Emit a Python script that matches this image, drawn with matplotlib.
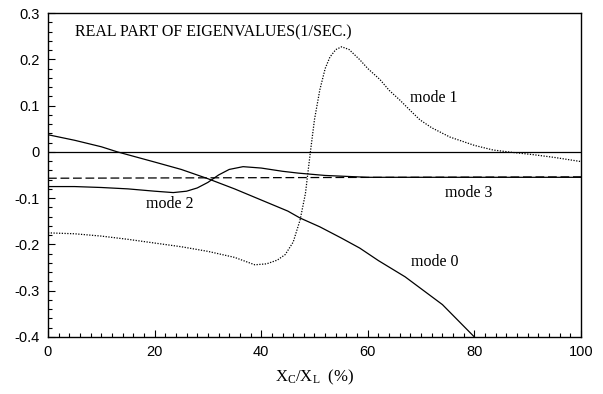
import numpy as np
import matplotlib
matplotlib.use("Agg")
import matplotlib.pyplot as plt
from matplotlib.ticker import MultipleLocator

plt.rcParams["mathtext.fontset"] = "custom"
plt.rcParams["mathtext.rm"] = "Liberation Serif"
plt.rcParams["mathtext.it"] = "Liberation Serif:italic"

# values (x = Xc/XL in %, y = 1/sec)
mode0_x = [0, 5, 10, 13, 20, 25, 30, 35, 40, 45, 47.3, 51, 55, 58.5, 62, 67, 74, 80]
mode0_y = [0.037, 0.025, 0.011, 0.0, -0.022, -0.038, -0.058, -0.080, -0.104,
           -0.128, -0.143, -0.162, -0.186, -0.208, -0.235, -0.270, -0.330, -0.400]

mode1_x = [0, 5, 10, 15, 20, 25, 30, 35, 38.8, 41, 43, 44.5, 46, 47.3, 48.3,
           49.2, 50, 51, 52, 52.9, 54, 55.1, 56.5, 58.5, 60, 62.3, 64, 66, 68,
           69.8, 72, 75.4, 80, 83.5, 87, 91, 95, 100]
mode1_y = [-0.175, -0.177, -0.182, -0.189, -0.197, -0.205, -0.215, -0.228,
           -0.244, -0.242, -0.234, -0.222, -0.195, -0.147, -0.090, -0.003,
           0.070, 0.134, 0.180, 0.205, 0.221, 0.227, 0.221, 0.199, 0.180,
           0.156, 0.133, 0.112, 0.089, 0.069, 0.052, 0.032, 0.014, 0.004,
           -0.001, -0.006, -0.012, -0.021]

mode2_x = [0, 5, 10, 15, 20, 23.5, 26, 28, 30, 32, 34, 36.6, 40, 44, 47, 52, 60, 100]
mode2_y = [-0.075, -0.075, -0.077, -0.080, -0.085, -0.088, -0.085, -0.078,
           -0.066, -0.050, -0.038, -0.032, -0.035, -0.042, -0.046, -0.051,
           -0.055, -0.055]

mode3_x = [0, 100]
mode3_y = [-0.057, -0.054]

x_ticks = [0, 20, 40, 60, 80, 100]
y_ticks = [-0.4, -0.3, -0.2, -0.1, 0, 0.1, 0.2, 0.3]
y_labels = ["-0.4", "-0.3", "-0.2", "-0.1", "0", "0.1", "0.2", "0.3"]

fig = plt.figure(figsize=(6.03, 3.94), dpi=100)
ax = fig.add_axes([0.0796, 0.1447, 0.8839, 0.8223])

lw = 0.9
ax.axhline(0, color="black", lw=lw)
ax.plot(mode0_x, mode0_y, color="black", lw=lw)
ax.plot(mode1_x, mode1_y, color="black", lw=lw, linestyle=(0, (1, 1.2)))
ax.plot(mode2_x, mode2_y, color="black", lw=lw)
ax.plot(mode3_x, mode3_y, color="black", lw=lw, linestyle=(0, (7, 3)))

ax.set_xlim(0, 100)
ax.set_ylim(-0.4, 0.3)
ax.set_xticks(x_ticks)
ax.set_yticks(y_ticks)
ax.set_yticklabels(y_labels)
ax.xaxis.set_minor_locator(MultipleLocator(2))
ax.yaxis.set_minor_locator(MultipleLocator(0.02))
ax.tick_params(which="both", direction="in", top=False, right=False,
               labelsize=10.5, width=0.8)
ax.tick_params(which="major", length=5, pad=6)
ax.tick_params(which="minor", length=3)
for lab in ax.get_xticklabels() + ax.get_yticklabels():
    lab.set_family("Liberation Sans")
for s in ax.spines.values():
    s.set_linewidth(1.0)

serif = "Liberation Serif"
ax.text(5, 0.259, "REAL PART OF EIGENVALUES(1/SEC.)", family=serif,
        fontsize=11.5, va="center")
ax.text(72.4, 0.117, "mode 1", family=serif, fontsize=11.5, ha="center", va="center")
ax.text(79, -0.089, "mode 3", family=serif, fontsize=11.5, ha="center", va="center")
ax.text(22.8, -0.112, "mode 2", family=serif, fontsize=11.5, ha="center", va="center")
ax.text(72.6, -0.237, "mode 0", family=serif, fontsize=11.5, ha="center", va="center")

ax.set_xlabel(r"X$_{\mathrm{C}}$/X$_{\mathrm{L}}$  (%)", family=serif,
              fontsize=12, labelpad=6)

fig.savefig("out.png", dpi=100)
